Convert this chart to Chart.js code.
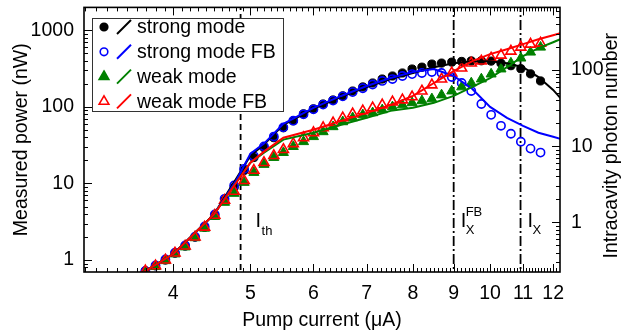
<!DOCTYPE html>
<html>
<head>
<meta charset="utf-8">
<script src="https://cdn.jsdelivr.net/npm/chart.js@4.4.1/dist/chart.umd.min.js"></script>
<style>
html, body { margin: 0; padding: 0; background: #fff; }
#wrap { width: 630px; height: 335px; }
</style>
</head>
<body>
<div id="wrap"><canvas id="chart" width="630" height="335"></canvas></div>
<script>
// measured points (nW), pump current in uA
const current = [3.69, 3.80, 3.91, 4.02, 4.14, 4.26, 4.38, 4.51, 4.64, 4.77, 4.91, 5.05, 5.20, 5.35,
    5.50, 5.66, 5.83, 6.00, 6.17, 6.35, 6.53, 6.72, 6.92, 7.12, 7.32, 7.54, 7.76, 7.98, 8.21, 8.45,
    8.69, 8.95, 9.21, 9.47, 9.75, 10.03, 10.32, 10.62, 10.93, 11.24, 11.57];
const strongMode = [0.72, 0.84, 1.00, 1.23, 1.52, 1.99, 2.68, 3.84, 6.0, 8.9, 14.8, 21.8, 29.4, 39.6,
    53.4, 65.8, 81.1, 94.2, 109, 123, 139, 161, 182, 205, 231, 253, 277, 312, 330, 362,
    373, 384, 392, 398, 400, 396, 370, 345, 315, 270, 218];
const strongModeFB = [0.72, 0.85, 1.02, 1.25, 1.55, 2.02, 2.75, 3.95, 6.3, 9.4, 15.5, 22.8, 30.5, 41,
    54, 66, 80, 93, 107, 121, 137, 156, 175, 196, 218, 231, 253, 268, 277, 285,
    277, 245, 205, 161, 109, 78.7, 56.6, 44.6, 35.1, 28.5, 25.3];
const weakMode = [0.70, 0.82, 0.98, 1.2, 1.48, 1.95, 2.6, 3.7, 5.66, 7.41, 10.3, 13.9, 17.7, 21.8,
    25.3, 30.3, 35.1, 40.8, 47.3, 55.0, 63.8, 71.9, 78.7, 83.6, 91.4, 100, 106, 113, 120, 127,
    143, 161, 182, 205, 231, 268, 312, 373, 433, 518, 601];
const weakModeFB = [0.72, 0.84, 1.0, 1.23, 1.52, 1.99, 2.68, 3.84, 6.01, 7.87, 10.9, 14.8, 18.7, 23.1,
    27.7, 33.0, 39.6, 45.9, 53.4, 61.9, 71.9, 81.1, 88.7, 97.1, 106, 116, 123, 135, 161, 193,
    231, 277, 321, 373, 396, 433, 473, 533, 601, 658, 678];

// model curves (intracavity photon number)
const modelCurrent = [3.5, 4.0, 4.5, 4.8, 5.0, 5.2, 5.5, 6.0, 6.5, 7.0, 7.5, 8.0, 8.5, 9.0, 9.5,
    10, 10.5, 11, 11.5, 12, 12.25];
const strongModel = [0.164, 0.382, 1.27, 3.76, 7.51, 10.5, 19.1, 30.9, 44.4, 60.0, 76.3, 91.4, 109,
    123, 131, 131, 123, 109, 80.9, 54.8, 43.0];
const strongModelFB = [0.164, 0.382, 1.27, 3.54, 7.98, 10.8, 19.7, 31.9, 45.7, 61.8, 78.6, 94.1, 103,
    83.5, 56.5, 32.8, 23.6, 18.5, 15.0, 13.3, 12.5];
const weakModel = [0.164, 0.382, 1.27, 3.33, 6.08, 8.22, 12.2, 15.0, 19.1, 23.6, 29.1, 31.9, 37.1,
    45.7, 60.0, 78.6, 109, 152, 194, 232, 254];
const weakModelFB = [0.164, 0.382, 1.27, 3.33, 6.08, 8.47, 12.9, 16.4, 21.5, 27.4, 34.8, 45.7, 67.6,
    97.0, 131, 162, 188, 219, 254, 287, 305];

// I_th, I_X^FB, I_X
const thresholdCurrent = 4.86;
const crossingFB = 9.0;
const crossing = 10.92;

const xTicks = [4, 5, 6, 7, 8, 9, 10, 11, 12];
const yTicks = [1, 10, 100, 1000];
const y2Ticks = [1, 10, 100];
const seriesNames = ['strong mode', 'strong mode FB', 'weak mode', 'weak mode FB'];

const FONT = "'Liberation Sans', Arial, sans-serif";
const BLACK = '#000000', BLUE = '#0000ff', GREEN = '#008000', RED = '#ff0000';

function pts(xs, ys) {
    return xs.map((v, i) => ({x: v, y: ys[i]}));
}

function vline(v) {
    return [{x: v, y: 0.3}, {x: v, y: 5000}];
}

// fixed box sizes, no automatic label padding
function fixBox(w, h) {
    return s => {
        if (w) s.width = w;
        if (h) s.height = h;
        s.paddingTop = 0;
        s.paddingBottom = 0;
        s.paddingLeft = 0;
        s.paddingRight = 0;
    };
}

function drawMarker(ctx, kind, color, x, y) {
    ctx.beginPath();
    if (kind === 'circle') {
        ctx.arc(x, y, 3.8, 0, Math.PI * 2);
    } else {
        const r = 5.6;
        ctx.moveTo(x, y - r);
        ctx.lineTo(x + r * 0.866, y + r * 0.5);
        ctx.lineTo(x - r * 0.866, y + r * 0.5);
        ctx.closePath();
    }
    ctx.lineWidth = 1.6;
    ctx.strokeStyle = color;
    ctx.stroke();
}

const extras = {
    id: 'extras',
    afterDatasetsDraw(chart) {
        const {ctx, chartArea: a, scales} = chart;
        const x = scales.x, y = scales.y, y2 = scales.y2;
        ctx.save();
        ctx.strokeStyle = '#000';

        // inward ticks
        ctx.lineWidth = 1;
        ctx.beginPath();
        for (let i = 30; i <= 123; i++) {
            const px = Math.round(x.getPixelForValue(i / 10)) + 0.5;
            if (px < a.left + 1 || px > a.right - 1) continue;
            const len = i % 10 === 0 ? 8 : 4;
            ctx.moveTo(px, a.bottom); ctx.lineTo(px, a.bottom - len);
            ctx.moveTo(px, a.top); ctx.lineTo(px, a.top + len);
        }
        for (const [sc, edge, dir] of [[y, a.left, 1], [y2, a.right, -1]]) {
            for (let d = -2; d <= 4; d++) {
                for (let m = 1; m <= 9; m++) {
                    const v = m * Math.pow(10, d);
                    const py = Math.round(sc.getPixelForValue(v)) + 0.5;
                    if (py < a.top + 1 || py > a.bottom - 1) continue;
                    const len = m === 1 ? 8 : 4;
                    ctx.moveTo(edge, py); ctx.lineTo(edge + dir * len, py);
                }
            }
        }
        ctx.stroke();

        // frame
        ctx.lineWidth = 1.6;
        ctx.strokeRect(a.left, a.top, a.right - a.left, a.bottom - a.top);

        // legend box
        const lx = 92, ly = 18, lw = 191, lh = 93;
        ctx.fillStyle = '#fff';
        ctx.fillRect(lx, ly, lw, lh);
        ctx.lineWidth = 1;
        ctx.strokeStyle = '#333';
        ctx.strokeRect(lx + 0.5, ly + 0.5, lw, lh);
        const colors = [BLACK, BLUE, GREEN, RED];
        const kinds = ['circle', 'circle', 'triangle', 'triangle'];
        const filled = [true, false, true, false];
        ctx.font = '19.5px ' + FONT;
        ctx.textBaseline = 'middle';
        seriesNames.forEach((name, i) => {
            const ry = 27 + i * 24.8;
            drawMarker(ctx, kinds[i], colors[i], 104, ry);
            if (filled[i]) { ctx.fillStyle = colors[i]; ctx.fill(); }
            ctx.beginPath();
            ctx.moveTo(117, ry + 7);
            ctx.lineTo(131, ry - 7);
            ctx.lineWidth = 2;
            ctx.strokeStyle = colors[i];
            ctx.stroke();
            ctx.fillStyle = '#000';
            ctx.fillText(name, 137, ry + 1);
        });

        // line annotations
        ctx.fillStyle = '#000';
        ctx.textBaseline = 'alphabetic';
        const xth = x.getPixelForValue(thresholdCurrent);
        const xfb = x.getPixelForValue(crossingFB);
        const xx = x.getPixelForValue(crossing);
        ctx.font = '20px ' + FONT;
        ctx.fillText('I', xth + 15, 227);
        ctx.fillText('I', xfb + 7, 227);
        ctx.fillText('I', xx + 7, 227);
        ctx.font = '13px ' + FONT;
        ctx.fillText('th', xth + 21, 235);
        ctx.fillText('FB', xfb + 12, 216);
        ctx.fillText('X', xfb + 12, 234);
        ctx.fillText('X', xx + 12, 234);

        // right axis title, reading upwards
        ctx.font = '19.5px ' + FONT;
        ctx.textAlign = 'center';
        ctx.textBaseline = 'middle';
        ctx.translate(612, (a.top + a.bottom) / 2 + 6);
        ctx.rotate(-Math.PI / 2);
        ctx.fillText('Intracavity photon number', 0, 0);
        ctx.restore();
    }
};

const tickFont = {family: FONT, size: 19.5};

const markerSet = (label, data, style, color, fill, order) => ({
    label: label,
    data: data,
    yAxisID: 'y',
    showLine: false,
    pointStyle: style,
    pointRadius: style === 'circle' ? 4.1 : 5.8,
    pointBackgroundColor: fill ? color : 'rgba(0,0,0,0)',
    pointBorderColor: color,
    pointBorderWidth: fill ? 1 : 1.6,
    order: order
});

const modelSet = (label, data, color, order) => ({
    label: label,
    data: data,
    yAxisID: 'y2',
    showLine: true,
    borderColor: color,
    borderWidth: 2,
    pointRadius: 0,
    order: order
});

const guideSet = (v, dash) => ({
    label: 'guide',
    data: vline(v),
    yAxisID: 'y',
    showLine: true,
    borderColor: '#000',
    borderWidth: 1.8,
    borderDash: dash,
    pointRadius: 0,
    order: 20
});

new Chart(document.getElementById('chart'), {
    type: 'scatter',
    data: {
        datasets: [
            markerSet('strong mode', pts(current, strongMode), 'circle', BLACK, true, 9),
            markerSet('strong mode FB', pts(current, strongModeFB), 'circle', BLUE, false, 8),
            markerSet('weak mode', pts(current, weakMode), 'triangle', GREEN, true, 7),
            markerSet('weak mode FB', pts(current, weakModeFB), 'triangle', RED, false, 6),
            modelSet('strong mode', pts(modelCurrent, strongModel), BLACK, 4),
            modelSet('strong mode FB', pts(modelCurrent, strongModelFB), BLUE, 3),
            modelSet('weak mode', pts(modelCurrent, weakModel), GREEN, 2),
            modelSet('weak mode FB', pts(modelCurrent, weakModelFB), RED, 1),
            guideSet(thresholdCurrent, [6, 4]),
            guideSet(crossingFB, [10, 3, 2, 3]),
            guideSet(crossing, [10, 3, 2, 3])
        ]
    },
    options: {
        responsive: false,
        animation: false,
        devicePixelRatio: 1,
        layout: { padding: { top: 6 } },
        plugins: {
            legend: { display: false },
            tooltip: { enabled: false }
        },
        scales: {
            x: {
                type: 'logarithmic',
                bounds: 'data',
                min: 3.09,
                max: 12.24,
                grid: { display: false, drawTicks: false },
                border: { display: false },
                afterBuildTicks: s => { s.ticks = xTicks.map(v => ({value: v})); },
                afterFit: fixBox(0, 63),
                ticks: {
                    color: '#000',
                    font: tickFont,
                    padding: 10,
                    autoSkip: false,
                    maxRotation: 0,
                    callback: v => String(v)
                },
                title: {
                    display: true,
                    text: 'Pump current (\u03bcA)',
                    color: '#000',
                    font: tickFont,
                    padding: { top: 0, bottom: 3 }
                }
            },
            y: {
                type: 'logarithmic',
                bounds: 'data',
                position: 'left',
                min: 0.698,
                max: 1990,
                grid: { display: false, drawTicks: false },
                border: { display: false },
                afterBuildTicks: s => { s.ticks = yTicks.map(v => ({value: v})); },
                afterFit: fixBox(84, 0),
                ticks: {
                    color: '#000',
                    font: tickFont,
                    padding: 10,
                    autoSkip: false,
                    callback: v => String(v)
                },
                title: {
                    display: true,
                    text: 'Measured power (nW)',
                    color: '#000',
                    font: tickFont,
                    padding: { top: 10, bottom: 0 }
                }
            },
            y2: {
                type: 'logarithmic',
                bounds: 'data',
                position: 'right',
                min: 0.222,
                max: 666,
                grid: { display: false, drawTicks: false },
                border: { display: false },
                afterBuildTicks: s => { s.ticks = y2Ticks.map(v => ({value: v})); },
                afterFit: fixBox(70, 0),
                ticks: {
                    color: '#000',
                    font: tickFont,
                    padding: 11,
                    autoSkip: false,
                    callback: v => String(v)
                }
            }
        }
    },
    plugins: [extras]
});
</script>
</body>
</html>
